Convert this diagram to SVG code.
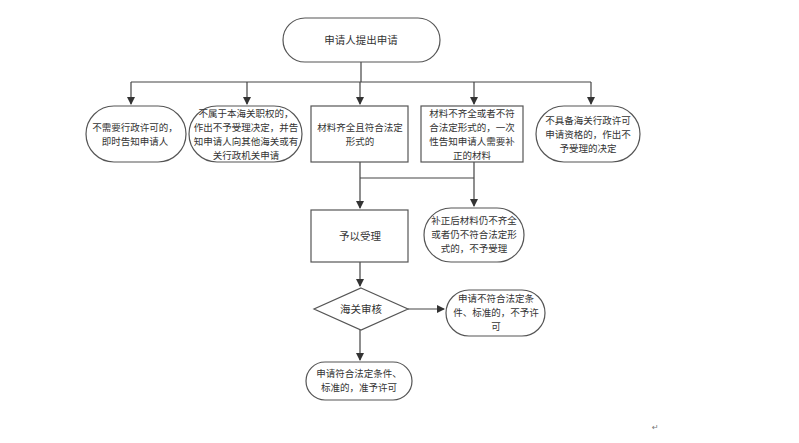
<svg xmlns="http://www.w3.org/2000/svg" width="799" height="443" viewBox="0 0 799 443">
<style>
.s{fill:#fff;stroke:#555;stroke-width:1.2}
.t{font-family:"Noto Sans CJK SC",sans-serif;font-size:9.5px;fill:#333;text-anchor:middle}
.c{fill:none;stroke:#444;stroke-width:1.2}
</style>
<defs><marker id="a" markerWidth="8" markerHeight="8" refX="7" refY="4" orient="auto" markerUnits="userSpaceOnUse"><path d="M0,0L8,4L0,8z" fill="#333"/></marker></defs>
<rect width="799" height="443" fill="#fff"/>
<g id="connectors">
<path class="c" d="M361,62V82M131,82H591"/>
<path class="c" d="M131,82V104" marker-end="url(#a)"/>
<path class="c" d="M247,82V104" marker-end="url(#a)"/>
<path class="c" d="M360,82V104" marker-end="url(#a)"/>
<path class="c" d="M474,82V104" marker-end="url(#a)"/>
<path class="c" d="M591,82V104" marker-end="url(#a)"/>
<path class="c" d="M360,162V208" marker-end="url(#a)"/>
<path class="c" d="M474,162V206" marker-end="url(#a)"/>
<path class="c" d="M360,178H474"/>
<path class="c" d="M360,262V286" marker-end="url(#a)"/>
<path class="c" d="M408,309H444" marker-end="url(#a)"/>
<path class="c" d="M360,330V360" marker-end="url(#a)"/>
</g>
<g id="start"><rect class="s" x="283" y="18" width="157" height="44" rx="22"/><text class="t" x="361" y="44" style="font-size:10.5px">申请人提出申请</text></g>
<g id="n1"><rect class="s" x="86" y="106" width="100" height="56" rx="28"/><text class="t" x="135" y="131">不需要行政许可的，</text><text class="t" x="135" y="145">即时告知申请人</text></g>
<g id="n2"><rect class="s" x="189" y="106" width="113" height="56" rx="28"/><text class="t" x="246" y="117">不属于本海关职权的，</text><text class="t" x="246" y="131">作出不予受理决定，并告</text><text class="t" x="246" y="145">知申请人向其他海关或有</text><text class="t" x="246" y="159">关行政机关申请</text></g>
<g id="n3"><rect class="s" x="311" y="106" width="97" height="56"/><text class="t" x="360" y="131">材料齐全且符合法定</text><text class="t" x="360" y="145">形式的</text></g>
<g id="n4"><rect class="s" x="421" y="106" width="102" height="56"/><text class="t" x="472" y="117">材料不齐全或者不符</text><text class="t" x="472" y="131">合法定形式的，一次</text><text class="t" x="472" y="145">性告知申请人需要补</text><text class="t" x="472" y="159">正的材料</text></g>
<g id="n5"><rect class="s" x="536" y="106" width="104" height="56" rx="28"/><text class="t" x="588" y="124">不具备海关行政许可</text><text class="t" x="588" y="138">申请资格的，作出不</text><text class="t" x="588" y="152">予受理的决定</text></g>
<g id="n6"><rect class="s" x="311" y="210" width="97" height="52"/><text class="t" x="360" y="240" style="font-size:10.5px">予以受理</text></g>
<g id="n7"><rect class="s" x="424" y="208" width="100" height="54" rx="27"/><text class="t" x="474" y="224">补正后材料仍不齐全</text><text class="t" x="474" y="238">或者仍不符合法定形</text><text class="t" x="474" y="252">式的，不予受理</text></g>
<g id="n8"><path class="s" d="M361,288L408,309L361,330L314,309z"/><text class="t" x="361" y="313" style="font-size:10.5px">海关审核</text></g>
<g id="n9"><rect class="s" x="446" y="290" width="99" height="46" rx="23"/><text class="t" x="496" y="302">申请不符合法定条</text><text class="t" x="496" y="316">件、标准的，不予许</text><text class="t" x="496" y="330">可</text></g>
<g id="n10"><rect class="s" x="306" y="362" width="106" height="38" rx="19"/><text class="t" x="359" y="377">申请符合法定条件、</text><text class="t" x="359" y="391">标准的，准予许可</text></g>
<text x="652" y="430" font-family="DejaVu Sans,sans-serif" font-size="8" fill="#777">↵</text>
</svg>
